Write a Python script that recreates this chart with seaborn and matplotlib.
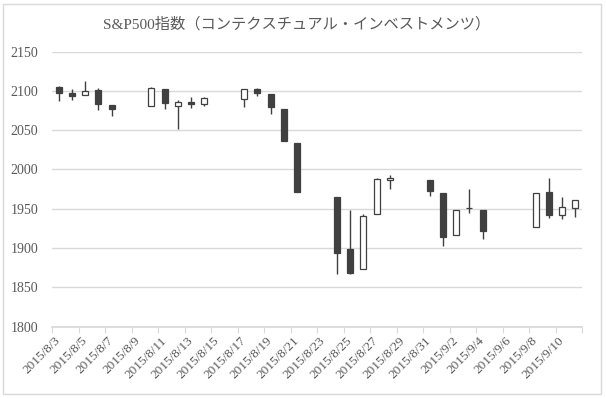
"Candlestick chart of S&P500, Aug-Sep 2015"
import pandas as pd
import numpy as np
import matplotlib
matplotlib.use("Agg")
from matplotlib import pyplot as plt
from matplotlib.patches import Rectangle
import seaborn as sns

# trading days and OHLC values
dates = ["2015-08-03", "2015-08-04", "2015-08-05", "2015-08-06", "2015-08-07",
         "2015-08-10", "2015-08-11", "2015-08-12", "2015-08-13", "2015-08-14",
         "2015-08-17", "2015-08-18", "2015-08-19", "2015-08-20", "2015-08-21",
         "2015-08-24", "2015-08-25", "2015-08-26", "2015-08-27", "2015-08-28",
         "2015-08-31", "2015-09-01", "2015-09-02", "2015-09-03", "2015-09-04",
         "2015-09-08", "2015-09-09", "2015-09-10", "2015-09-11"]
opens = [2104.5, 2097.7, 2095.3, 2100.8, 2082.6,
         2081.0, 2102.7, 2081.1, 2086.2, 2083.2,
         2089.7, 2102.0, 2095.7, 2076.6, 2034.1,
         1965.2, 1898.1, 1872.8, 1942.8, 1986.1,
         1986.7, 1970.1, 1916.5, 1950.8, 1947.8,
         1927.3, 1971.5, 1941.6, 1951.5]
highs = [2105.7, 2102.5, 2112.7, 2103.3, 2082.6,
         2105.4, 2102.7, 2089.1, 2092.9, 2092.5,
         2102.9, 2103.5, 2096.2, 2076.6, 2034.1,
         1965.2, 1948.0, 1943.1, 1989.6, 1993.5,
         1986.7, 1970.1, 1948.9, 1975.0, 1947.8,
         1970.4, 1988.6, 1965.3, 1961.1]
lows = [2087.3, 2088.6, 2095.3, 2075.5, 2067.9,
        2081.0, 2076.5, 2052.1, 2078.3, 2080.6,
        2079.3, 2094.1, 2070.5, 2035.7, 1970.9,
        1867.0, 1867.1, 1872.8, 1942.8, 1975.2,
        1966.0, 1903.1, 1916.5, 1944.7, 1911.2,
        1927.3, 1937.9, 1937.2, 1939.2]
closes = [2098.0, 2093.3, 2099.8, 2083.6, 2077.6,
          2104.2, 2084.1, 2086.1, 2083.4, 2091.5,
          2102.4, 2096.9, 2079.6, 2035.7, 1970.9,
          1893.2, 1867.6, 1940.5, 1987.7, 1988.9,
          1972.2, 1913.9, 1948.9, 1951.1, 1921.2,
          1969.4, 1942.0, 1952.3, 1961.1]

title = "S&P500指数（コンテクスチュアル・インベストメンツ）"
y_ticks = [1800, 1850, 1900, 1950, 2000, 2050, 2100, 2150]

df = pd.DataFrame({"date": pd.to_datetime(dates), "open": opens, "high": highs,
                   "low": lows, "close": closes})
start = df["date"].iloc[0]
end = pd.Timestamp("2015-09-11")
df["x"] = (df["date"] - start).dt.days
df["bottom"] = df[["open", "close"]].min(axis=1)
df["height"] = (df["close"] - df["open"]).abs()
df["up"] = df["close"] > df["open"]

sns.set_theme(style="white")
plt.rcParams["font.family"] = ["Liberation Serif", "Noto Sans CJK JP", "DejaVu Sans"]

dark = "#404040"
grey = "#595959"
light = "#d9d9d9"

fig = plt.figure(figsize=(6.06, 3.98), dpi=100)
ax = fig.add_axes([52 / 606, 1 - 326.5 / 398, 530 / 606, (326.5 - 51.7) / 398])

# wicks then bodies
ax.vlines(df["x"], df["low"], df["high"], color=dark, lw=1, zorder=2)
face = np.where(df["up"], "white", dark)
ax.bar(df["x"], df["height"], bottom=df["bottom"], width=0.45, color=face,
       edgecolor=dark, linewidth=0.9, zorder=3)

n_days = (end - start).days
ax.set_xlim(-0.5, n_days + 0.5)
ax.set_ylim(1800, 2150)
ax.set_yticks(y_ticks)
ax.grid(axis="y", color=light, lw=1)
ax.grid(axis="x", visible=False)
ax.set_axisbelow(True)
for side in ["top", "right", "left"]:
    ax.spines[side].set_visible(False)
ax.spines["bottom"].set_color(light)

# labels every 2 days at the day centre, tick marks on the day boundaries
label_days = pd.date_range(start, end - pd.Timedelta(days=1), freq="2D")
label_pos = (label_days - start).days
labels = ["{}/{}/{}".format(d.year, d.month, d.day) for d in label_days]
ax.set_xticks(label_pos)
ax.set_xticklabels(labels)
ax.set_xticks(np.arange(-0.5, n_days + 1, 2), minor=True)
ax.tick_params(axis="x", which="major", bottom=True, length=0, pad=9,
               labelsize=9.5, labelcolor=grey)
ax.tick_params(axis="x", which="minor", bottom=True, length=4, width=0.8, color=light)
for lbl in ax.get_xticklabels():
    lbl.set_rotation(45)
    lbl.set_ha("right")
    lbl.set_va("center")
    lbl.set_rotation_mode("anchor")
ax.tick_params(axis="y", left=False, length=0, pad=10, labelsize=10, labelcolor=grey)

fig.text(0.49, 1 - 24 / 398, title, ha="center", va="center", fontsize=11, color=grey)
fig.patches.append(Rectangle((3 / 606, 4 / 398), 598 / 606, 390 / 398,
                             transform=fig.transFigure, fill=False,
                             edgecolor=light, lw=1))

plt.savefig("out.png", dpi=100)
